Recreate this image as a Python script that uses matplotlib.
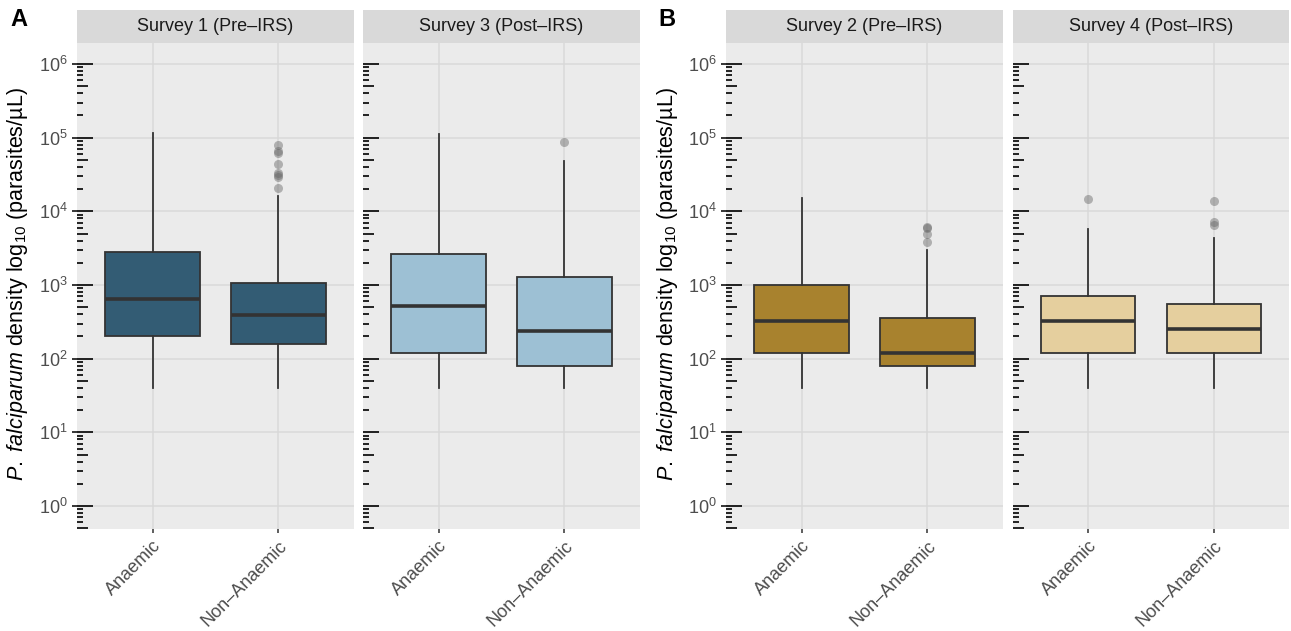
# P. falciparum density by anaemia status, faceted by survey
import matplotlib.pyplot as plt
import matplotlib.transforms as mtransforms
from matplotlib.ticker import FixedLocator, NullLocator

plt.rcParams['font.family'] = ['Liberation Sans', 'DejaVu Sans']
plt.rcParams['mathtext.fontset'] = 'custom'
plt.rcParams['mathtext.rm'] = 'Liberation Sans'
plt.rcParams['mathtext.it'] = 'Liberation Sans:italic'

# Data
groups = ['Anaemic', 'Non\u2013Anaemic']
surveys = ['Survey 1 (Pre\u2013IRS)', 'Survey 3 (Post\u2013IRS)',
           'Survey 2 (Pre\u2013IRS)', 'Survey 4 (Post\u2013IRS)']
colors = ['#335C74', '#9DC0D4', '#A8822E', '#E5CF9E']
whislo = [[40, 40], [40, 40], [40, 40], [40, 40]]
q1 = [[200, 160], [120, 80], [120, 80], [120, 120]]
med = [[640, 390], [520, 240], [320, 120], [320, 250]]
q3 = [[2800, 1060], [2640, 1280], [1000, 360], [710, 550]]
whishi = [[115000, 16000], [112000, 48000], [15200, 3000], [5750, 4350]]
fliers = [[[], [80000, 65000, 62000, 44000, 33000, 31000, 29000, 21000]],
          [[], [88000]],
          [[], [6100, 6000, 4900, 3850]],
          [[14700], [13800, 7200, 6500]]]

# Layout (pixels)
W, H = 1291, 631
lefts = [77, 363, 726, 1013]
widths = [277, 277, 277, 276]
top, bottom, strip_top = 43, 529, 10
ylo, yhi = 10 ** -0.312, 10 ** 6.285

fig = plt.figure(figsize=(W / 100, H / 100), dpi=100)

for i in range(4):
    ax = fig.add_axes([lefts[i] / W, (H - bottom) / H, widths[i] / W, (bottom - top) / H])
    ax.set_facecolor('#EBEBEB')
    ax.set_yscale('log')
    ax.set_ylim(ylo, yhi)
    ax.set_xlim(0.4, 2.6)
    for s in ax.spines.values():
        s.set_visible(False)

    stats = []
    for j in range(2):
        stats.append(dict(whislo=whislo[i][j], q1=q1[i][j], med=med[i][j],
                          q3=q3[i][j], whishi=whishi[i][j], fliers=fliers[i][j]))
    ax.bxp(stats, positions=[1, 2], widths=0.75, patch_artist=True,
           boxprops=dict(facecolor=colors[i], edgecolor='#333333', linewidth=1.3),
           whiskerprops=dict(color='#333333', linewidth=1.3),
           capprops=dict(linewidth=0),
           medianprops=dict(color='#333333', linewidth=2.6),
           flierprops=dict(marker='o', markersize=6.5, markerfacecolor='#666666',
                           markeredgecolor='none', alpha=0.45),
           zorder=3)

    ax.set_xticks([1, 2])
    ax.set_xticklabels(groups, rotation=45, ha='right', rotation_mode='anchor',
                       color='#4D4D4D', fontsize=13)
    ax.tick_params(axis='x', length=3, width=1.1, color='#333333', pad=3)

    ax.yaxis.set_major_locator(FixedLocator([10 ** k for k in range(0, 7)]))
    ax.yaxis.set_minor_locator(NullLocator())
    ax.set_yticklabels([r'$\mathregular{10^{%d}}$' % k for k in range(0, 7)],
                       color='#4D4D4D', fontsize=13)
    if i in (0, 2):
        ax.tick_params(axis='y', length=3.6, width=1.1, color='black', pad=3)
    else:
        ax.tick_params(axis='y', left=False, labelleft=False)

    ax.grid(True, which='major', color='#D9D9D9', linewidth=1.1)
    ax.set_axisbelow(True)

    # log ticks inside the panel
    trans = mtransforms.blended_transform_factory(ax.transAxes, ax.transData)
    for d in range(-1, 7):
        for m in range(1, 10):
            v = m * 10 ** d
            if v < ylo or v > yhi:
                continue
            L = 16 if m == 1 else (11 if m == 5 else 6)
            ax.plot([0, L / widths[i]], [v, v], transform=trans, color='black',
                    linewidth=1.2, solid_capstyle='butt', clip_on=False, zorder=4)

    # facet strip
    sax = fig.add_axes([lefts[i] / W, (H - top) / H, widths[i] / W, (top - strip_top) / H])
    sax.set_facecolor('#D9D9D9')
    sax.set_xticks([])
    sax.set_yticks([])
    for s in sax.spines.values():
        s.set_visible(False)
    sax.text(0.5, 0.5, surveys[i], ha='center', va='center', fontsize=13,
             color='#1A1A1A', transform=sax.transAxes)

ylab = r'$\it{P.\ falciparum}$ density log$_{10}$ (parasites/µL)'
for x in (18, 668):
    fig.text(x / W, 1 - 284 / H, ylab, rotation=90, ha='center', va='center', fontsize=15.5)

fig.text(10 / W, 1 - 8 / H, 'A', fontweight='bold', fontsize=17, va='top', ha='left')
fig.text(658 / W, 1 - 8 / H, 'B', fontweight='bold', fontsize=17, va='top', ha='left')

fig.savefig('out.png', dpi=100)
